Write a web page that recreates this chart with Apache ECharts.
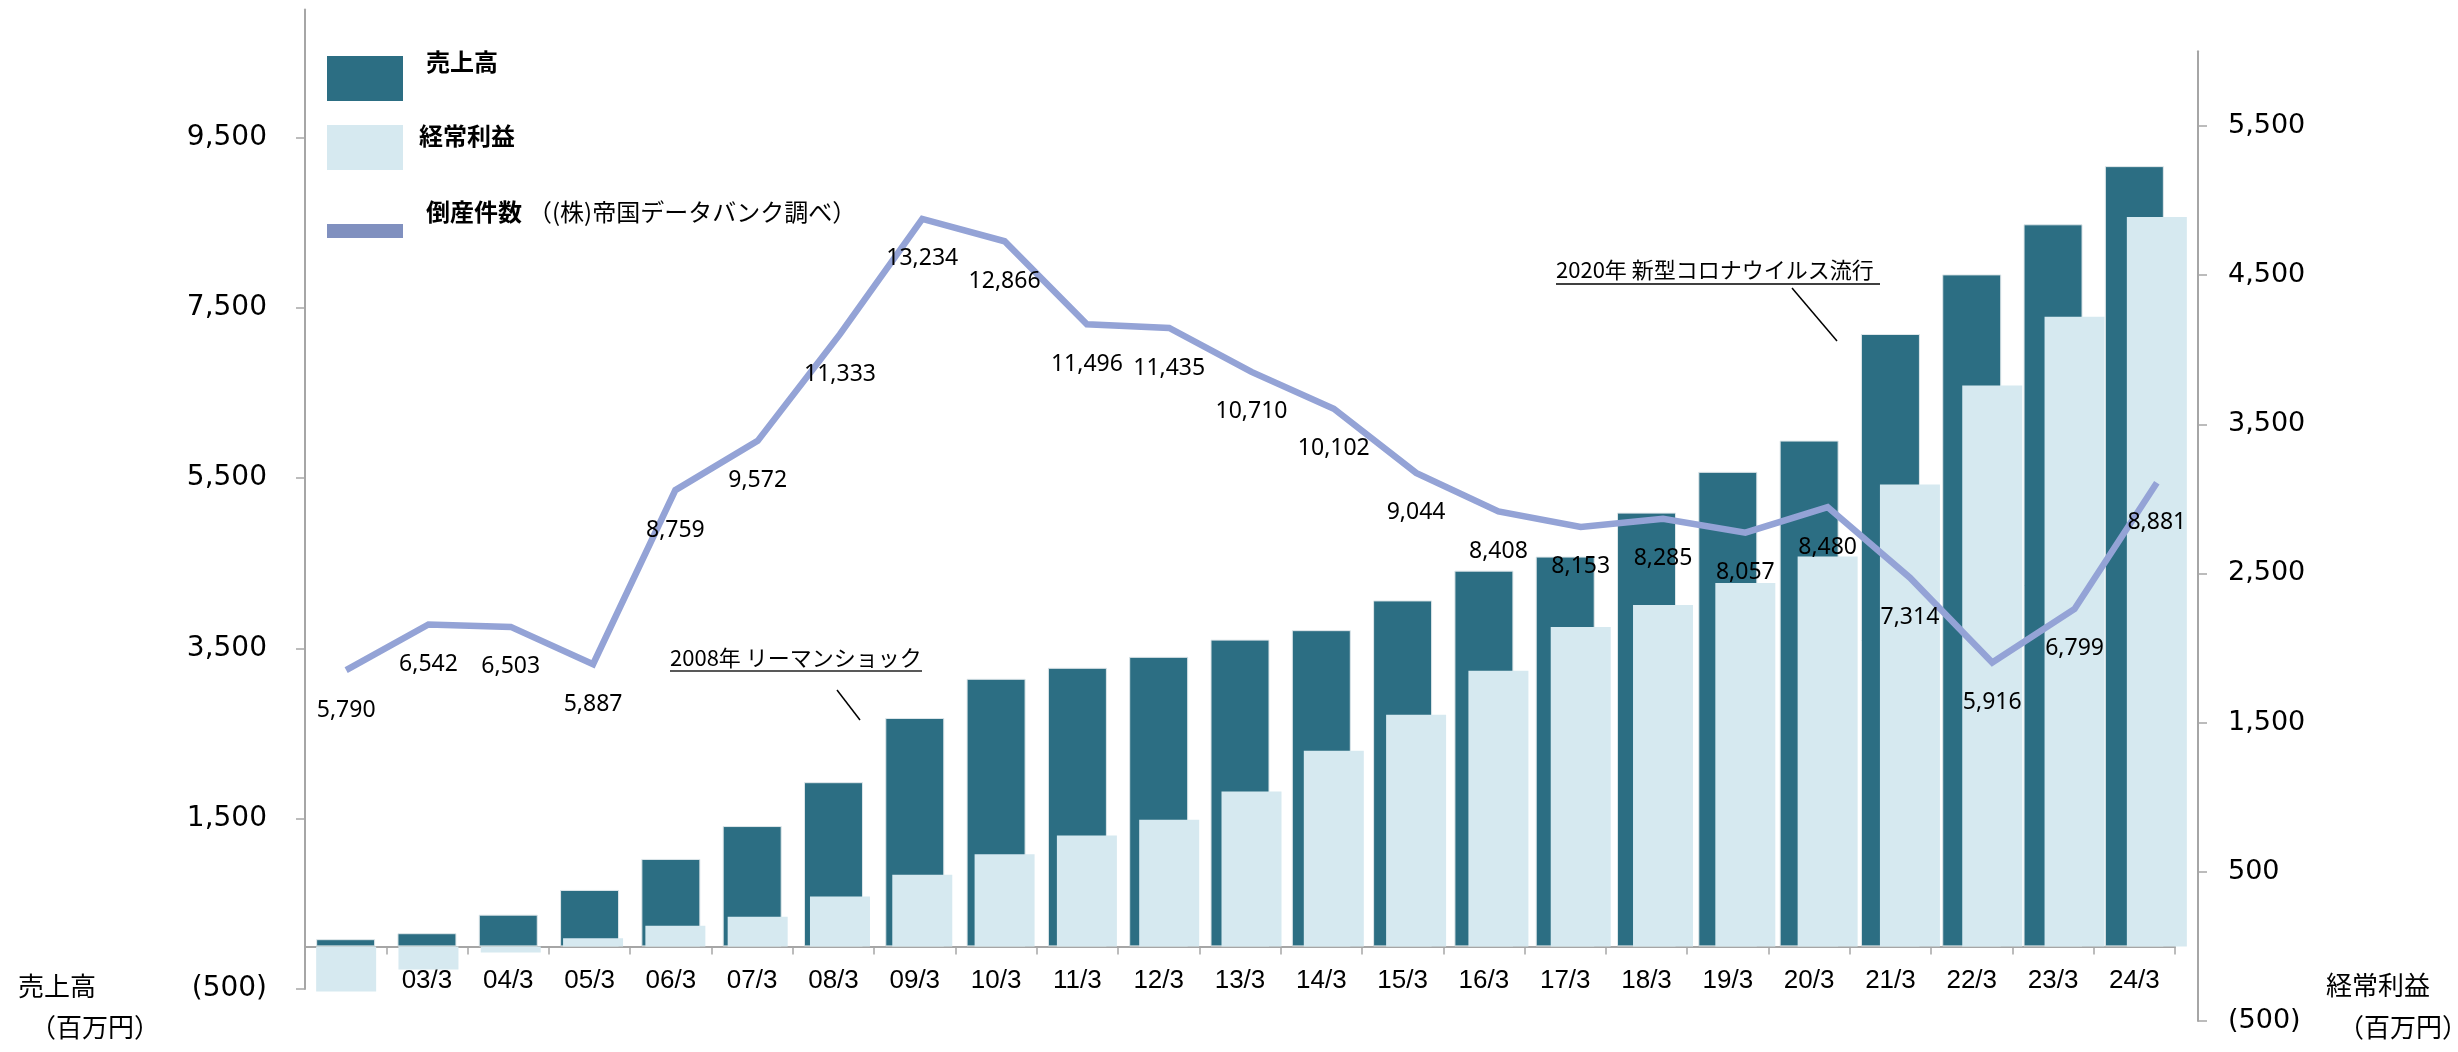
<!DOCTYPE html>
<html>
<head>
<meta charset="utf-8">
<script src="https://cdn.jsdelivr.net/npm/echarts@6/dist/echarts.min.js"></script>
<style>
  html, body { margin: 0; padding: 0; background: #ffffff; }
  #chart { width: 2458px; height: 1052px; }
</style>
</head>
<body>
<div id="chart"></div>
<script>
// Fiscal years (March year-end)
const categories = ['02/3','03/3','04/3','05/3','06/3','07/3','08/3','09/3','10/3','11/3','12/3',
  '13/3','14/3','15/3','16/3','17/3','18/3','19/3','20/3','21/3','22/3','23/3','24/3'];

// 売上高 (百万円)
const sales = [85, 155, 373, 663, 1027, 1413, 1928, 2682, 3142, 3271, 3400, 3602,
  3713, 4062, 4412, 4577, 5093, 5572, 5939, 7190, 7890, 8478, 9161];

// 経常利益 (百万円)
const ordinaryProfit = [-303, -155, -41, 55, 139, 198, 334, 481, 618, 744, 849, 1038,
  1311, 1553, 1847, 2141, 2288, 2436, 2614, 3097, 3759, 4221, 4889];

// 倒産件数 (帝国データバンク調べ)
const bankruptcies = [5790, 6542, 6503, 5887, 8759, 9572, 11333, 13234, 12866, 11496, 11435,
  10710, 10102, 9044, 8408, 8153, 8285, 8057, 8480, 7314, 5916, 6799, 8881];

// Tick values shown on the two value axes
const salesTicks = [-500, 1500, 3500, 5500, 7500, 9500];
const profitTicks = [-500, 500, 1500, 2500, 3500, 4500, 5500];

const DARK = '#2c6e83';
const LIGHT = '#d6e9f0';
const LINE = '#94a3d6';
const AXIS = '#a6a6a6';
const CJK = '"Noto Sans CJK JP", "Noto Sans", sans-serif';

// sales-axis range and plot box of the left grid
const SALES_MIN = -500, SALES_MAX = 11000;
const GRID0 = { left: 305, right: 283, top: 9.5, bottom: 63 };
const grid0Height = 1052 - GRID0.top - GRID0.bottom;
// the category axis sits on the zero line of the sales axis
const categoryOffset = SALES_MIN / (SALES_MAX - SALES_MIN) * grid0Height;

function fmt(v) {
  const s = Math.abs(v).toLocaleString('en-US');
  return v < 0 ? '(' + s + ')' : s;
}

const chart = echarts.init(document.getElementById('chart'), null, { renderer: 'canvas' });

const option = {
  backgroundColor: '#ffffff',
  animation: false,
  grid: [
    Object.assign({ containLabel: false }, GRID0),
    { left: 305, right: 260, top: 51.3, bottom: 31, containLabel: false }
  ],
  xAxis: [
    {
      type: 'category', gridIndex: 0, data: categories, boundaryGap: true,
      position: 'bottom', offset: categoryOffset,
      axisLine: { onZero: false, lineStyle: { color: AXIS, width: 2 } },
      axisTick: { show: true, length: 8, lineStyle: { color: AXIS, width: 1.5 } },
      axisLabel: { margin: 21, color: '#000', fontSize: 26, fontFamily: '"Liberation Sans", Arial, sans-serif' },
      splitLine: { show: false }
    },
    {
      type: 'category', gridIndex: 1, data: categories, boundaryGap: true, show: false
    }
  ],
  yAxis: [
    {
      type: 'value', gridIndex: 0, position: 'left', min: SALES_MIN, max: SALES_MAX,
      axisLine: { show: true, onZero: false, lineStyle: { color: AXIS, width: 2 } },
      axisTick: { show: true, length: 9, customValues: salesTicks, lineStyle: { color: AXIS, width: 1.5 } },
      axisLabel: { customValues: salesTicks, formatter: fmt, margin: 38, color: '#000',
        fontSize: 28, fontFamily: '"DejaVu Sans", Verdana, sans-serif' },
      splitLine: { show: false }
    },
    {
      type: 'value', gridIndex: 1, position: 'right', min: -500, max: 6000,
      axisLine: { show: true, onZero: false, lineStyle: { color: AXIS, width: 2 } },
      axisTick: { show: true, length: 9, customValues: profitTicks, lineStyle: { color: AXIS, width: 1.5 } },
      axisLabel: { customValues: profitTicks, formatter: fmt, margin: 30, color: '#000',
        fontSize: 27, fontFamily: '"DejaVu Sans", Verdana, sans-serif' },
      splitLine: { show: false }
    },
    {
      type: 'value', gridIndex: 1, min: 0, max: 16000, show: false,
      splitLine: { show: false }
    }
  ],
  series: [
    {
      name: '売上高', type: 'bar', xAxisIndex: 0, yAxisIndex: 0,
      data: sales, barWidth: 59, z: 2,
      itemStyle: { color: DARK, borderColor: '#dfe7ea', borderWidth: 1 }
    },
    {
      name: '経常利益', type: 'bar', xAxisIndex: 1, yAxisIndex: 1,
      data: ordinaryProfit, barWidth: 60, z: 3,
      itemStyle: { color: LIGHT }
    },
    {
      name: '倒産件数', type: 'line', xAxisIndex: 1, yAxisIndex: 2,
      data: bankruptcies, z: 4,
      symbol: 'circle', symbolSize: 1, showSymbol: true,
      itemStyle: { color: 'rgba(0,0,0,0)' },
      lineStyle: { color: LINE, width: 6.5, join: 'miter' },
      label: {
        show: true, position: 'bottom', distance: 28,
        formatter: p => fmt(p.value),
        color: '#000', fontSize: 23, fontFamily: '"Noto Sans", sans-serif'
      }
    }
  ],
  graphic: [
    // legend
    { type: 'rect', left: 327, top: 56, shape: { width: 76, height: 45 }, style: { fill: DARK }, z: 10 },
    { type: 'text', left: 426, top: 50, style: { text: '売上高', fill: '#000', font: 'bold 24px ' + CJK }, z: 10 },
    { type: 'rect', left: 327, top: 125, shape: { width: 76, height: 45 }, style: { fill: LIGHT }, z: 10 },
    { type: 'text', left: 419, top: 124, style: { text: '経常利益', fill: '#000', font: 'bold 24px ' + CJK }, z: 10 },
    { type: 'rect', left: 327, top: 224, shape: { width: 76, height: 14 }, style: { fill: '#8090bf' }, z: 10 },
    { type: 'text', left: 426, top: 200, style: { text: '倒産件数', fill: '#000', font: 'bold 24px ' + CJK }, z: 10 },
    { type: 'text', left: 528, top: 200, style: { text: '（(株)帝国データバンク調べ）', fill: '#000', font: '24px ' + CJK }, z: 10 },

    // axis names
    { type: 'text', left: 18, top: 973, style: { text: '売上高', fill: '#000', font: '26px ' + CJK }, z: 10 },
    { type: 'text', left: 30, top: 1014, style: { text: '（百万円）', fill: '#000', font: '26px ' + CJK }, z: 10 },
    { type: 'text', left: 2326, top: 972, style: { text: '経常利益', fill: '#000', font: '26px ' + CJK }, z: 10 },
    { type: 'text', left: 2338, top: 1014, style: { text: '（百万円）', fill: '#000', font: '26px ' + CJK }, z: 10 },

    // annotation: 2008
    { type: 'text', left: 670, top: 647, style: { text: '2008年 リーマンショック', fill: '#000', font: '22px ' + CJK }, z: 10 },
    { type: 'line', shape: { x1: 670, y1: 671, x2: 922, y2: 671 }, style: { stroke: '#595959', lineWidth: 2 }, z: 10 },
    { type: 'line', shape: { x1: 837, y1: 690, x2: 860, y2: 720 }, style: { stroke: '#000', lineWidth: 1.5 }, z: 10 },

    // annotation: 2020
    { type: 'text', left: 1556, top: 259, style: { text: '2020年 新型コロナウイルス流行', fill: '#000', font: '22px ' + CJK }, z: 10 },
    { type: 'line', shape: { x1: 1556, y1: 284, x2: 1880, y2: 284 }, style: { stroke: '#000', lineWidth: 1.5 }, z: 10 },
    { type: 'line', shape: { x1: 1792, y1: 288, x2: 1837, y2: 341 }, style: { stroke: '#000', lineWidth: 1.5 }, z: 10 }
  ]
};

chart.setOption(option);
</script>
</body>
</html>
